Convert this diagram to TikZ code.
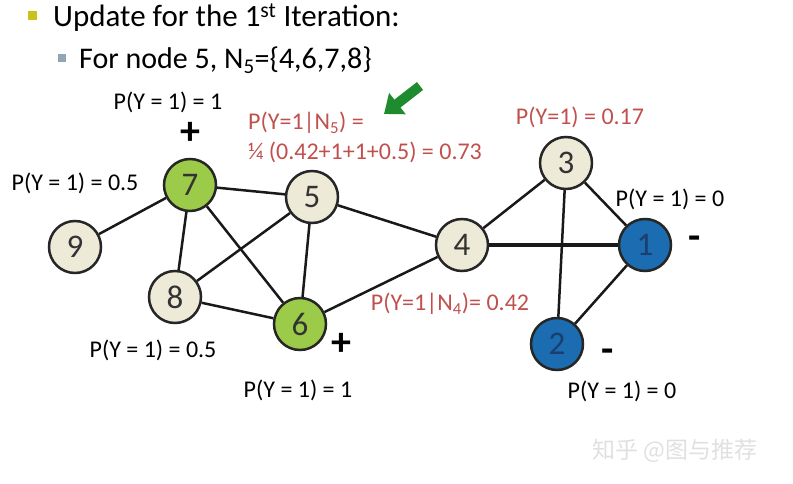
\documentclass[tikz,border=0pt]{standalone}
\usepackage{fontspec}
\setmainfont{Carlito}
\newfontfamily\cjkfont{Noto Sans CJK SC}
\usetikzlibrary{arrows.meta}
\definecolor{beige}{HTML}{EEEAD8}
\definecolor{lgreen}{HTML}{9BCB48}
\definecolor{nblue}{HTML}{1B6CB0}
\definecolor{ntext}{HTML}{1A3F6E}
\definecolor{redtxt}{HTML}{C0504D}
\definecolor{arrgreen}{HTML}{1E8C2E}
\definecolor{bul1}{HTML}{C8C21A}
\definecolor{bul2}{HTML}{8FA6B4}
\tikzset{
  gnode/.style={circle,draw=black!85,line width=2.5pt,minimum size=52pt,inner sep=0pt,font=\fontsize{33}{33}\selectfont,text=black!80},
  bnode/.style={gnode,fill=beige},
  vnode/.style={gnode,fill=lgreen},
  dnode/.style={gnode,fill=nblue,text=ntext},
  edge/.style={draw=black!90,line width=2.5pt},
  plab/.style={font=\fontsize{24}{24}\selectfont,inner sep=0pt},
  rlab/.style={plab,text=redtxt},
  sign/.style={font=\fontsize{40}{40}\selectfont\bfseries,inner sep=0pt}
}
\begin{document}
\begin{tikzpicture}[x=1pt,y=-1pt]
\useasboundingbox (0,0) rectangle (793,484);
% header
\node[fill=bul1,minimum size=9pt,inner sep=0pt] (b1) at (32,16) {};
\node[anchor=west,inner sep=0pt,font=\fontsize{31}{31}\selectfont] (t1) at (53,18) {Update for the 1\textsuperscript{st} Iteration:};
\node[fill=bul2,minimum size=8pt,inner sep=0pt] (b2) at (62,58) {};
\node[anchor=west,inner sep=0pt,font=\fontsize{30}{30}\selectfont] (t2) at (79,60) {For node 5, N\textsubscript{5}=\{4,6,7,8\}};
% nodes
\node[vnode] (n7) at (190,185) {7};
\node[bnode] (n5) at (312,197) {5};
\node[bnode] (n9) at (75,247) {9};
\node[bnode] (n8) at (175,297) {8};
\node[vnode] (n6) at (300,324) {6};
\node[bnode] (n4) at (462,245) {4};
\node[bnode] (n3) at (566,163) {3};
\node[dnode] (n1) at (645,245) {1};
\node[dnode] (n2) at (557,344) {2};
% edges
\draw[edge] (n7) -- (n9);
\draw[edge] (n7) -- (n5);
\draw[edge] (n7) -- (n8);
\draw[edge] (n7) -- (n6);
\draw[edge] (n5) -- (n8);
\draw[edge] (n5) -- (n6);
\draw[edge] (n5) -- (n4);
\draw[edge] (n8) -- (n6);
\draw[edge] (n6) -- (n4);
\draw[edge] (n4) -- (n3);
\draw[edge,line width=4.8pt] (n4) -- (n1);
\draw[edge] (n3) -- (n1);
\draw[edge] (n3) -- (n2);
\draw[edge] (n1) -- (n2);
% labels
\node[plab] (l7) at (168,102) {P(Y = 1) = 1};
\node[sign] (p7) at (190,133) {+};
\node[plab] (l7b) at (75,183) {P(Y = 1) = 0.5};
\node[plab] (l8) at (153,350) {P(Y = 1) = 0.5};
\node[sign] (p6) at (341,344) {+};
\node[plab] (l6) at (298,390) {P(Y = 1) = 1};
\node[plab] (l1) at (670,199) {P(Y = 1) = 0};
\node[sign] (m1) at (695,243) {-};
\node[sign] (m2) at (608,356) {-};
\node[plab] (l2) at (622,391) {P(Y = 1) = 0};
\node[rlab] (l3) at (580,117) {P(Y=1) = 0.17};
\node[rlab,anchor=west] (l5a) at (248,123) {P(Y=1|N\textsubscript{5}) =};
\node[rlab,anchor=west] (l5b) at (248,152) {¼ (0.42+1+1+0.5) = 0.73};
\node[rlab] (l4) at (450,304) {P(Y=1|N\textsubscript{4})= 0.42};
% green arrow
\coordinate (aT) at (420,86);
\coordinate (aH) at (384,114);
\draw[arrgreen,line width=10pt,-{Triangle[width=26pt,length=17pt]}] (aT) -- (aH);
% watermark
\node[font=\cjkfont\fontsize{23}{23}\selectfont,text=black!12] (wm) at (675,451) {知乎 @图与推荐};
\end{tikzpicture}
\end{document}
